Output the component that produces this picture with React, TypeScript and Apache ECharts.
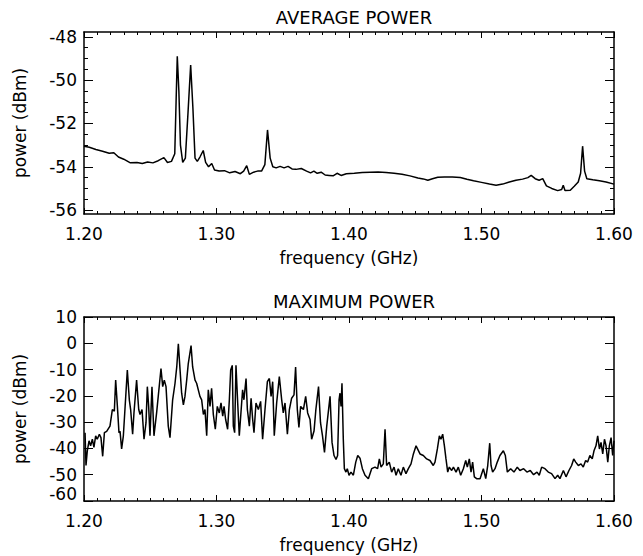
import { useEffect, useRef } from 'react';
import * as echarts from 'echarts';

// ---------- data ----------
const xTickLabels = ['1.20', '1.30', '1.40', '1.50', '1.60'];
const avgYTicks = [-56, -54, -52, -50, -48];
const avgYMinorTicks = [-56, -55.5, -55, -54.5, -54, -53.5, -53, -52.5, -52, -51.5, -51, -50.5, -50, -49.5, -49, -48.5, -48];
const maxYTicks = [-60, -50, -40, -30, -20, -10, 0, 10];

const avgFreq = [
  1.2, 1.204, 1.209, 1.214, 1.219, 1.2225, 1.226, 1.23, 1.235, 1.24, 1.244, 1.248, 1.252, 1.256, 1.2603, 1.263, 1.266,
  1.2685, 1.2695, 1.2704, 1.2716, 1.2728, 1.2745, 1.2765, 1.2785, 1.2805, 1.2822, 1.2838, 1.2855, 1.2875, 1.29, 1.2918,
  1.294, 1.2964, 1.2985, 1.302, 1.306, 1.31, 1.314, 1.318, 1.3205, 1.3228, 1.3248, 1.328, 1.331, 1.334, 1.3365, 1.3385,
  1.3405, 1.3425, 1.345, 1.348, 1.351, 1.354, 1.357, 1.36, 1.364, 1.368, 1.371, 1.3735, 1.376, 1.379, 1.382, 1.385, 1.388,
  1.391, 1.394, 1.398, 1.404, 1.41, 1.416, 1.422, 1.428, 1.434, 1.44, 1.446, 1.452, 1.456, 1.4595, 1.463, 1.467, 1.472,
  1.478, 1.484, 1.489, 1.494, 1.5, 1.506, 1.511, 1.516, 1.521, 1.526, 1.531, 1.535, 1.5375, 1.5405, 1.5435, 1.5462, 1.549,
  1.553, 1.5575, 1.5605, 1.5617, 1.563, 1.567, 1.57, 1.573, 1.5748, 1.5763, 1.5778, 1.5795, 1.584, 1.589, 1.594, 1.6,
];
const avgPower = [
  -53.05, -53.1, -53.2, -53.28, -53.38, -53.35, -53.55, -53.65, -53.82, -53.8, -53.85, -53.78, -53.82, -53.72, -53.58, -53.8, -53.75,
  -53.4, -51.0, -48.9, -50.5, -53.0, -53.8, -53.6, -51.5, -49.3, -51.3, -53.6, -53.75, -53.55, -53.25, -53.8,
  -54.0, -53.85, -54.15, -54.2, -54.18, -54.28, -54.22, -54.32, -54.2, -53.95, -54.35, -54.25, -54.2, -54.2, -53.9, -52.3,
  -53.6, -54.0, -54.05, -53.98, -54.05, -53.98, -54.1, -54.12, -54.08, -54.2, -54.28, -54.2, -54.3, -54.25, -54.38, -54.4, -54.42,
  -54.3, -54.4, -54.32, -54.3, -54.27, -54.25, -54.24, -54.26, -54.3, -54.35, -54.42, -54.52, -54.56, -54.62, -54.55, -54.48, -54.47,
  -54.47, -54.5, -54.58, -54.65, -54.72, -54.8, -54.85, -54.8, -54.7, -54.62, -54.57, -54.5, -54.4, -54.55, -54.62, -54.55, -54.88,
  -55.0, -55.1, -55.05, -54.85, -55.1, -55.08, -54.9, -54.7, -54.3, -53.05, -54.2, -54.55, -54.6, -54.65, -54.7, -54.8,
];

const maxFreq = [
  1.2008, 1.2015, 1.2025, 1.2038, 1.205, 1.2063, 1.2075, 1.2088, 1.21, 1.2116, 1.2128, 1.2141, 1.2154, 1.2171, 1.2196, 1.2214,
  1.2229, 1.2239, 1.2252, 1.2264, 1.2272, 1.2284, 1.2297, 1.2309, 1.2327, 1.2342, 1.2352, 1.2367, 1.2377, 1.2397, 1.2413, 1.2423,
  1.2438, 1.2453, 1.2468, 1.2478, 1.2488, 1.2498, 1.2513, 1.2528, 1.2548, 1.2581, 1.2594, 1.2606, 1.2619, 1.2636, 1.2649, 1.2669,
  1.2687, 1.27, 1.2712, 1.2725, 1.2737, 1.275, 1.2762, 1.2775, 1.2787, 1.2808, 1.282, 1.2838, 1.285, 1.2875, 1.2888, 1.2901,
  1.2913, 1.2926, 1.2938, 1.2951, 1.2963, 1.2976, 1.2991, 1.3006, 1.3021, 1.3034, 1.3047, 1.3057, 1.3069, 1.3084, 1.3097, 1.3107,
  1.3119, 1.3127, 1.3137, 1.3147, 1.316, 1.3172, 1.3197, 1.3207, 1.3223, 1.3233, 1.3248, 1.3261, 1.3273, 1.3283, 1.3298, 1.3316,
  1.3333, 1.3348, 1.3366, 1.3384, 1.3399, 1.3412, 1.3424, 1.3436, 1.3454, 1.3474, 1.3492, 1.3504, 1.3517, 1.3535, 1.355, 1.3567,
  1.3585, 1.3597, 1.361, 1.3622, 1.3635, 1.3656, 1.3673, 1.3688, 1.3706, 1.3718, 1.3736, 1.375, 1.377, 1.3785, 1.38, 1.3815,
  1.3832, 1.3857, 1.3872, 1.3887, 1.3902, 1.3914, 1.3925, 1.3932, 1.394, 1.3947, 1.3957, 1.3965, 1.3977, 1.3987, 1.4, 1.4015,
  1.4033, 1.4051, 1.4066, 1.4083, 1.4101, 1.4121, 1.4146, 1.4171, 1.4196, 1.4216, 1.4229, 1.4242, 1.4259, 1.4272, 1.4284, 1.4304,
  1.4322, 1.434, 1.4355, 1.4372, 1.4392, 1.441, 1.443, 1.4448, 1.4468, 1.4486, 1.4506, 1.4536, 1.4561, 1.4586, 1.4611, 1.4636,
  1.4649, 1.4667, 1.4682, 1.4694, 1.4707, 1.472, 1.4732, 1.4745, 1.4757, 1.4775, 1.4788, 1.4808, 1.4825, 1.4843, 1.4863, 1.4881,
  1.4893, 1.4908, 1.4921, 1.4933, 1.4946, 1.4963, 1.4989, 1.5014, 1.5032, 1.5047, 1.5062, 1.5072, 1.5084, 1.5102, 1.5119, 1.5139,
  1.5165, 1.518, 1.5195, 1.522, 1.5245, 1.527, 1.529, 1.5318, 1.5343, 1.5368, 1.5393, 1.5419, 1.5436, 1.5454, 1.5479, 1.5504,
  1.5529, 1.5555, 1.5575, 1.5592, 1.5618, 1.5638, 1.566, 1.568, 1.5696, 1.5711, 1.5731, 1.5751, 1.5768, 1.5786, 1.5801, 1.5818,
  1.5836, 1.5849, 1.5864, 1.5877, 1.589, 1.5902, 1.5915, 1.5928, 1.594, 1.5953, 1.5965, 1.5978, 1.599, 1.6,
];
const maxPower = [
  -34, -46.5, -40.9, -37.1, -39, -36.5, -39.6, -35.2, -36.5, -34.6, -35.9, -43, -34, -33.5, -31.5, -25.2,
  -25.8, -14, -24, -34, -33.5, -40.2, -35.2, -25.2, -10.2, -21.5, -25.2, -34.6, -26.5, -14, -25.2, -27.1,
  -25.2, -36.5, -30.2, -16.5, -24, -35.2, -16.5, -35.2, -26.5, -9.6, -16.5, -14, -16.5, -31.5, -35.9, -21.5,
  -15.2, -9, -0.2, -10.2, -19, -23.4, -20.2, -14, -7.7, -0.9, -9, -14, -15.2, -20.2, -21.5, -27.1,
  -25.2, -35.2, -17.7, -24, -17.1, -27.1, -32.7, -24, -26.5, -22.7, -27.7, -24, -29, -32.7, -21.5, -10.2,
  -8.4, -31.5, -34, -8.4, -22.7, -35.2, -17.7, -21.5, -13.4, -25.2, -31.5, -20.9, -29, -34, -22.7, -25.2,
  -22.1, -36.5, -25.2, -14.6, -13.4, -20.2, -14.6, -35.2, -22.7, -12.7, -21.5, -26.5, -22.7, -34.6, -25.2, -20.9,
  -19.6, -9, -25.2, -32, -24, -25.2, -20.2, -26.5, -29, -36.5, -33.4, -25.2, -16.5, -30.2, -35.2, -41.5,
  -31.5, -20.2, -37.7, -42.7, -44.2, -42.7, -21.5, -19, -24, -15.2, -36.5, -47.7, -49, -47.7, -50.2, -49,
  -50.2, -45.2, -42.7, -43.7, -47.7, -50.2, -51.5, -47.7, -47.1, -47.7, -44, -47.1, -45.9, -32.7, -46.5, -45.2,
  -49, -47.1, -50.2, -47.7, -50.2, -47.1, -49.6, -47.7, -45.9, -42.1, -39, -42.1, -42.7, -44, -44.6, -46.5,
  -45.2, -40.2, -35.2, -36.5, -34.6, -39, -44, -49, -47.1, -48.4, -47.1, -49, -47.1, -50.2, -47.7, -44.6,
  -47.1, -44, -49, -45.2, -50.8, -51.5, -51.5, -47.7, -51.5, -46.5, -38, -46.5, -49, -47.7, -45.2, -42.7,
  -40.9, -42.7, -49, -47.7, -49, -47.1, -48.4, -47.7, -49, -48.4, -50, -49, -50.2, -47.1, -47.7, -49,
  -49.6, -51.5, -50.2, -51.5, -48.4, -50.8, -48.4, -46.5, -44, -45.2, -46.5, -45.9, -47.1, -44.6, -45.2, -42.7,
  -44, -40.9, -39, -35.2, -40.2, -37.7, -42.1, -36.5, -39, -45.2, -39, -35.9, -42.7, -37.1,
];

const FONT = 'DejaVu Sans';
const INK = '#000';

const xAxisDef = (gridIndex: number, position: 'top' | 'bottom', labels: boolean) => ({
  type: 'value',
  gridIndex,
  position,
  min: 1.2,
  max: 1.6,
  interval: 0.1,
  axisLine: { show: true, onZero: false, lineStyle: { color: INK, width: 1.5 } },
  axisTick: { show: true, inside: true, length: 6, lineStyle: { color: INK, width: 1 } },
  minorTick: { show: true, splitNumber: 10, length: 3, lineStyle: { color: INK, width: 1 } },
  splitLine: { show: false },
  minorSplitLine: { show: false },
  axisLabel: {
    show: labels,
    margin: 11,
    fontSize: 17,
    color: INK,
    fontFamily: FONT,
    formatter: (v: number) => {
      const idx = Math.round((v - 1.2) / 0.1);
      return xTickLabels[idx] ?? v.toFixed(2);
    },
  },
  name: labels ? 'frequency (GHz)' : '',
  nameLocation: 'middle',
  nameGap: 35,
  nameTextStyle: { fontSize: 17, color: INK, fontFamily: FONT },
});

const yCommon = {
  type: 'value',
  splitLine: { show: false },
  minorSplitLine: { show: false },
};

export default function App() {
  const ref = useRef<HTMLDivElement>(null);
  useEffect(() => {
    if (!ref.current) return;
    const chart = echarts.init(ref.current, null, { renderer: 'svg' });
    const avgData = avgFreq.map((f, i) => [f, avgPower[i]]);
    const maxData = maxFreq.map((f, i) => [f, maxPower[i]]);
    const topMin = -56.18;
    const topMax = -47.78;
    const maxMin = maxYTicks[0];
    const maxMax = maxYTicks[maxYTicks.length - 1];
    const option: any = {
      animation: false,
      backgroundColor: '#fff',
      textStyle: { fontFamily: FONT, color: INK },
      title: [
        {
          text: 'AVERAGE POWER',
          left: 349,
          top: 3,
          textAlign: 'center',
          textStyle: { fontSize: 18, fontWeight: 'normal', color: INK, fontFamily: FONT },
        },
        {
          text: 'MAXIMUM POWER',
          left: 349,
          top: 287,
          textAlign: 'center',
          textStyle: { fontSize: 18, fontWeight: 'normal', color: INK, fontFamily: FONT },
        },
      ],
      grid: [
        { left: 84, right: 29, top: 32, height: 182 },
        { left: 84, right: 29, top: 317, height: 184 },
      ],
      xAxis: [
        xAxisDef(0, 'bottom', true),
        xAxisDef(0, 'top', false),
        xAxisDef(1, 'bottom', true),
        xAxisDef(1, 'top', false),
      ],
      yAxis: [
        {
          ...yCommon,
          gridIndex: 0,
          position: 'left',
          min: topMin,
          max: topMax,
          axisLine: { show: true, lineStyle: { color: INK, width: 1.5 } },
          axisTick: { show: true, inside: true, length: 9, customValues: avgYTicks, lineStyle: { color: INK, width: 1 } },
          axisLabel: { show: true, customValues: avgYTicks, margin: 7, fontSize: 17, color: INK, fontFamily: FONT, formatter: (v: number) => String(Math.round(v)) },
          name: 'power (dBm)',
          nameLocation: 'middle',
          nameGap: 56,
          nameTextStyle: { fontSize: 17, color: INK, fontFamily: FONT },
        },
        {
          ...yCommon,
          gridIndex: 0,
          position: 'left',
          min: topMin,
          max: topMax,
          axisLine: { show: false },
          axisTick: { show: true, inside: true, length: 4, customValues: avgYMinorTicks, lineStyle: { color: INK, width: 1 } },
          axisLabel: { show: false },
        },
        {
          ...yCommon,
          gridIndex: 0,
          position: 'right',
          min: topMin,
          max: topMax,
          axisLine: { show: true, lineStyle: { color: INK, width: 1.5 } },
          axisTick: { show: true, inside: true, length: 9, customValues: avgYTicks, lineStyle: { color: INK, width: 1 } },
          axisLabel: { show: false },
        },
        {
          ...yCommon,
          gridIndex: 0,
          position: 'right',
          min: topMin,
          max: topMax,
          axisLine: { show: false },
          axisTick: { show: true, inside: true, length: 4, customValues: avgYMinorTicks, lineStyle: { color: INK, width: 1 } },
          axisLabel: { show: false },
        },
        {
          ...yCommon,
          gridIndex: 1,
          position: 'left',
          min: maxMin,
          max: maxMax,
          interval: 10,
          axisLine: { show: true, lineStyle: { color: INK, width: 1.5 } },
          axisTick: { show: true, inside: true, length: 9, lineStyle: { color: INK, width: 1 } },
          axisLabel: { show: true, customValues: maxYTicks.slice(1), margin: 7, fontSize: 17, lineHeight: 15, color: INK, fontFamily: FONT },
          name: 'power (dBm)',
          nameLocation: 'middle',
          nameGap: 56,
          nameTextStyle: { fontSize: 17, color: INK, fontFamily: FONT },
        },
        {
          ...yCommon,
          gridIndex: 1,
          position: 'right',
          min: maxMin,
          max: maxMax,
          interval: 10,
          axisLine: { show: true, lineStyle: { color: INK, width: 1.5 } },
          axisTick: { show: true, inside: true, length: 9, lineStyle: { color: INK, width: 1 } },
          axisLabel: { show: false },
        },
        {
          ...yCommon,
          gridIndex: 1,
          position: 'left',
          min: maxMin,
          max: maxMax,
          axisLine: { show: false },
          axisTick: { show: false },
          axisLabel: {
            show: true,
            showMinLabel: true,
            customValues: [maxMin],
            verticalAlign: 'bottom',
            lineHeight: 14,
            margin: 7,
            fontSize: 17,
            color: INK,
            fontFamily: FONT,
          },
        },
      ],
      series: [
        {
          type: 'line',
          name: 'average power',
          xAxisIndex: 0,
          yAxisIndex: 0,
          data: avgData,
          showSymbol: false,
          symbol: 'none',
          lineStyle: { color: INK, width: 1.5 },
        },
        {
          type: 'line',
          name: 'maximum power',
          xAxisIndex: 2,
          yAxisIndex: 4,
          data: maxData,
          showSymbol: false,
          symbol: 'none',
          lineStyle: { color: INK, width: 1.5 },
        },
      ],
    };
    chart.setOption(option);
    return () => chart.dispose();
  }, []);
  return (
    <div
      ref={ref}
      style={{ position: 'absolute', left: 0, top: 0, width: 643, height: 556, background: '#fff' }}
    />
  );
}
